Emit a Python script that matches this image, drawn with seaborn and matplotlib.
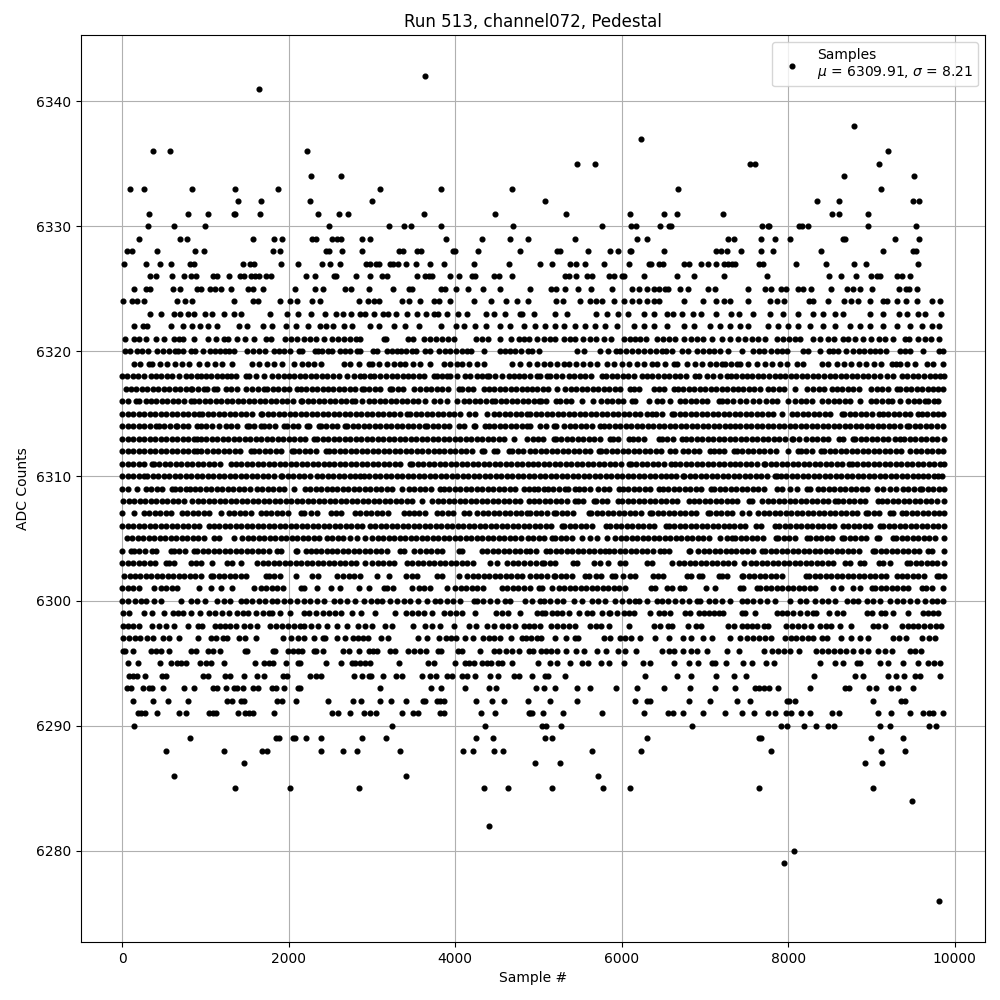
import pandas as pd
import seaborn as sns
import matplotlib.pyplot as plt

# sample numbers, one list per ADC level
adc_6342 = [3635]
adc_6341 = [1643]
adc_6338 = [8795]
adc_6337 = [6227]
adc_6336 = [371, 575, 2219, 9203]
adc_6335 = [5459, 5675, 7547, 7607, 9095]
adc_6334 = [2267, 2627, 8675, 9515]
adc_6333 = [95, 263, 839, 1355, 1871, 3095, 3827, 4679, 6671, 9119]
adc_6332 = [1391, 1667, 2255, 2999, 5075, 8351, 8615, 9503, 9575]
adc_6331 = [323, 791, 1031, 1343, 1359, 1655, 2351, 2603, 2711, 3623, 4475, 5327, 6095, 6503, 6659, 7211, 8531, 8615, 8963]
adc_6330 = [311, 623, 995, 2483, 3203, 3383, 3467, 3827, 4691, 5759, 6107, 6167, 6455, 6563, 6587, 7691, 7763, 7775, 8135, 8171, 8243, 8963, 9539]
adc_6329 = [203, 695, 779, 1571, 1823, 1919, 2279, 2327, 2519, 2579, 2627, 2879, 2975, 3887, 4319, 4655, 4871, 5435, 6179, 6299, 7271, 7343, 7679, 7847, 8027, 8663, 8687, 9287, 9575]
adc_6328 = [55, 119, 419, 875, 983, 1811, 1895, 2447, 2483, 2639, 2879, 3323, 3371, 3543, 3591, 3971, 3995, 4271, 4775, 5219, 5255, 5591, 5855, 5951, 6095, 6107, 6503, 7127, 7187, 7259, 7439, 7679, 7823, 8399, 9143, 9503, 9539]
adc_6327 = [23, 287, 455, 587, 815, 863, 1451, 1535, 1583, 1907, 2111, 2399, 2495, 2615, 2927, 2975, 3047, 3083, 3215, 3251, 3311, 3407, 3527, 3695, 3863, 4223, 4643, 5015, 5159, 5375, 5447, 5555, 5783, 6083, 6323, 6347, 6443, 6491, 6743, 6803, 6947, 7031, 7127, 7223, 7271, 7319, 7367, 7655, 7703, 8099, 8459, 8795, 8939, 9563]
adc_6326 = [335, 407, 599, 743, 827, 887, 1091, 1139, 1283, 1415, 1463, 1547, 1595, 1643, 1727, 1787, 2207, 2315, 2543, 2567, 2807, 2975, 3119, 3179, 3539, 3635, 3683, 3719, 3935, 4043, 4199, 4235, 4463, 4523, 4679, 5315, 5363, 5447, 5579, 5639, 5843, 5903, 6000, 6023, 6263, 6659, 6863, 7223, 7751, 8495, 8639, 8819, 8999, 9071, 9107, 9311, 9371, 9467]
adc_6325 = [143, 287, 335, 611, 695, 899, 947, 1055, 1115, 1187, 1307, 1511, 1571, 1691, 2075, 2315, 2411, 2675, 2747, 2963, 3251, 3443, 3479, 3827, 3875, 4007, 4151, 4331, 4535, 4903, 5147, 5207, 5315, 5471, 5627, 5879, 6119, 6203, 6299, 6383, 6443, 6515, 6551, 6695, 6791, 7031, 7115, 7523, 7727, 7799, 7919, 7979, 8123, 8183, 8279, 8519, 8711, 8783, 8867, 9011, 9335, 9419, 9455, 9551]
adc_6324 = [11, 119, 179, 263, 659, 755, 839, 1343, 1571, 1631, 1895, 2015, 2099, 2279, 2375, 2843, 2951, 3023, 3083, 3359, 3443, 3575, 3743, 3803, 3935, 4223, 4427, 4607, 4739, 4871, 5207, 5291, 5495, 5615, 5687, 5759, 5903, 6023, 6119, 6203, 6303, 6383, 6443, 6743, 6971, 7127, 7223, 7295, 7523, 7787, 7871, 7955, 8255, 8303, 8483, 8675, 8759, 8843, 8987, 9143, 9191, 9311, 9419, 9551, 9731, 9827]
adc_6323 = [335, 467, 623, 695, 791, 863, 995, 1079, 1223, 1343, 1427, 1775, 1979, 2111, 2267, 2435, 2567, 2651, 2747, 2855, 2915, 3023, 3131, 3191, 3287, 3419, 3539, 3647, 3743, 3791, 3899, 4031, 4139, 4367, 4463, 4595, 4775, 4799, 4943, 5195, 5339, 5687, 5819, 5951, 6071, 6263, 6383, 6539, 6611, 6719, 6851, 6947, 7127, 7307, 7415, 7583, 7787, 7943, 8123, 8303, 8423, 8567, 8663, 8987, 9143, 9335, 9431, 9563, 9647, 9839]
adc_6322 = [143, 251, 299, 587, 731, 839, 935, 1031, 1143, 1403, 1499, 1691, 1803, 1967, 2087, 2231, 2375, 2447, 2531, 2663, 2763, 2975, 3083, 3263, 3395, 3563, 3827, 4007, 4103, 4235, 4367, 4535, 4655, 4823, 4963, 5083, 5203, 5303, 5443, 5563, 5683, 5803, 5943, 6143, 6263, 6383, 6543, 6743, 6863, 7063, 7183, 7303, 7423, 7523, 7763, 7883, 8003, 8123, 8263, 8423, 8563, 8743, 8863, 8983, 9143, 9303, 9463, 9603, 9723, 9815]
adc_6321 = [35, 143, 203, 287, 407, 503, 623, 683, 731, 863, 1031, 1127, 1223, 1271, 1379, 1475, 1583, 1727, 1787, 1955, 2027, 2103, 2183, 2255, 2327, 2423, 2519, 2591, 2663, 2735, 2807, 2855, 3143, 3167, 3431, 3491, 3623, 3695, 3767, 3839, 3911, 3983, 4247, 4319, 4391, 4535, 4667, 4763, 4823, 4883, 4983, 5063, 5143, 5203, 5303, 5383, 5443, 5531, 5615, 5695, 5783, 5871, 6023, 6103, 6163, 6223, 6287, 6423, 6495, 6563, 6643, 6743, 6831, 6903, 6975, 7083, 7203, 7303, 7403, 7483, 7563, 7643, 7723, 7871, 7943, 8015, 8087, 8143, 8303, 8383, 8483, 8551, 8655, 8723, 8803, 8903, 8991, 9095, 9163, 9263, 9403, 9455, 9563, 9643, 9711, 9807]
adc_6320 = [31, 95, 179, 239, 307, 423, 495, 563, 631, 671, 731, 823, 875, 967, 1055, 1115, 1175, 1235, 1283, 1343, 1503, 1575, 1643, 1711, 1823, 1883, 1943, 2015, 2123, 2159, 2315, 2351, 2399, 2471, 2519, 2615, 2675, 2735, 2823, 2855, 3011, 3059, 3179, 3239, 3299, 3347, 3411, 3479, 3527, 3635, 3695, 3803, 3875, 3935, 4007, 4079, 4143, 4191, 4343, 4535, 4599, 4663, 4723, 4787, 4871, 4927, 5003, 5459, 5543, 5735, 5831, 5927, 5975, 6047, 6119, 6191, 6263, 6335, 6407, 6479, 6527, 6599, 6719, 6791, 6903, 6975, 7043, 7103, 7183, 7271, 7451, 7583, 7655, 7715, 7799, 7863, 7923, 7983, 8183, 8243, 8387, 8495, 8543, 8603, 8699, 8783, 8855, 8915, 8983, 9043, 9103, 9175, 9343, 9403, 9463, 9623, 9815, 9863]
adc_6319 = [143, 210, 323, 363, 450, 540, 630, 720, 803, 923, 1023, 1110, 1200, 1323, 1563, 1650, 1740, 1830, 1920, 2063, 2163, 2230, 2303, 2383, 2663, 2743, 2850, 2963, 3003, 3090, 3180, 3260, 3343, 3403, 3490, 3580, 3703, 3863, 3943, 4023, 4083, 4170, 4260, 4343, 4683, 4783, 4883, 4983, 5063, 5143, 5223, 5303, 5363, 5450, 5540, 5620, 5703, 5823, 5910, 6000, 6090, 6180, 6270, 6363, 6423, 6520, 6623, 6663, 6783, 6883, 6970, 7060, 7130, 7203, 7243, 7310, 7383, 7423, 7523, 7631, 7720, 7810, 7900, 7990, 8103, 8183, 8403, 8483, 8583, 8670, 8760, 8850, 8940, 9030, 9120, 9243, 9295, 9343, 9423, 9523, 9663, 9735, 9863]
adc_6318 = [3, 62, 131, 196, 268, 343, 403, 470, 538, 601, 688, 763, 823, 903, 943, 1007, 1071, 1140, 1203, 1263, 1303, 1370, 1483, 1523, 1603, 1703, 1803, 1871, 1943, 2003, 2068, 2131, 2197, 2266, 2333, 2397, 2466, 2534, 2603, 2703, 2783, 2863, 2903, 2983, 3023, 3103, 3171, 3243, 3303, 3370, 3431, 3497, 3563, 3631, 3743, 3783, 3843, 3903, 3943, 4021, 4123, 4183, 4263, 4323, 4383, 4403, 4480, 4563, 4643, 4707, 4763, 4823, 4903, 4983, 5023, 5103, 5143, 5211, 5283, 5363, 5431, 5497, 5565, 5631, 5763, 5815, 5880, 5947, 6013, 6081, 6147, 6243, 6303, 6370, 6437, 6503, 6571, 6637, 6703, 6771, 6883, 6923, 7023, 7095, 7180, 7263, 7311, 7375, 7441, 7507, 7571, 7637, 7703, 7771, 7837, 7903, 7967, 8033, 8097, 8163, 8231, 8297, 8363, 8431, 8497, 8563, 8631, 8697, 8763, 8831, 8897, 8963, 9031, 9103, 9183, 9263, 9363, 9431, 9497, 9563, 9631, 9697, 9763, 9823, 9870]
adc_6317 = [43, 107, 171, 239, 303, 371, 437, 503, 569, 633, 701, 767, 823, 843, 911, 983, 1023, 1103, 1143, 1243, 1311, 1377, 1483, 1563, 1631, 1703, 1743, 1809, 1875, 1941, 2007, 2103, 2143, 2209, 2275, 2341, 2407, 2473, 2539, 2605, 2671, 2737, 2803, 2883, 2903, 2969, 3035, 3101, 3223, 3243, 3309, 3375, 3503, 3583, 3649, 3715, 3781, 3847, 3913, 4043, 4083, 4149, 4215, 4343, 4403, 4469, 4535, 4601, 4667, 4733, 4799, 4865, 4923, 4989, 5055, 5121, 5223, 5323, 5389, 5455, 5521, 5587, 5653, 5719, 5785, 5851, 5917, 5983, 6103, 6143, 6209, 6383, 6443, 6509, 6623, 6671, 6737, 6803, 6869, 6935, 7001, 7067, 7133, 7199, 7265, 7331, 7397, 7463, 7529, 7595, 7661, 7763, 7823, 7889, 7955, 8083, 8223, 8303, 8369, 8435, 8523, 8583, 8649, 8715, 8781, 8847, 8999, 9063, 9129, 9195, 9303, 9343, 9409, 9475, 9541, 9607, 9673, 9739, 9805, 9863]
adc_6316 = [3, 68, 163, 203, 283, 343, 409, 475, 541, 607, 673, 739, 823, 863, 929, 995, 1061, 1127, 1193, 1259, 1325, 1391, 1457, 1523, 1589, 1655, 1721, 1787, 1853, 1919, 1985, 2051, 2143, 2163, 2229, 2295, 2361, 2427, 2493, 2559, 2625, 2691, 2763, 2803, 2883, 2963, 3029, 3095, 3161, 3227, 3293, 3359, 3425, 3491, 3557, 3643, 3743, 3823, 3903, 4023, 4103, 4169, 4235, 4301, 4367, 4443, 4483, 4549, 4615, 4681, 4747, 4813, 4879, 4945, 5003, 5031, 5097, 5215, 5263, 5329, 5395, 5523, 5655, 5755, 5821, 5887, 5953, 6019, 6123, 6163, 6323, 6423, 6483, 6583, 6695, 6761, 6827, 6893, 6959, 7025, 7163, 7203, 7269, 7335, 7423, 7495, 7583, 7649, 7735, 7803, 7869, 8003, 8083, 8149, 8215, 8281, 8403, 8483, 8549, 8615, 8681, 8747, 8863, 8991, 9057, 9123, 9203, 9243, 9343, 9443, 9509, 9575, 9643, 9683, 9749, 9803]
adc_6315 = [3, 69, 135, 201, 267, 333, 399, 465, 531, 597, 663, 729, 795, 861, 923, 963, 1029, 1095, 1161, 1227, 1293, 1359, 1425, 1491, 1557, 1663, 1683, 1749, 1815, 1881, 1947, 2013, 2079, 2145, 2211, 2283, 2343, 2409, 2475, 2541, 2607, 2673, 2739, 2805, 2871, 2937, 3003, 3069, 3135, 3201, 3267, 3333, 3423, 3463, 3529, 3595, 3661, 3727, 3793, 3859, 3925, 3991, 4057, 4163, 4243, 4383, 4463, 4529, 4595, 4661, 4727, 4793, 4859, 4903, 4969, 5035, 5101, 5167, 5233, 5299, 5365, 5431, 5497, 5563, 5629, 5695, 5761, 5827, 5893, 5959, 6025, 6091, 6157, 6223, 6303, 6363, 6415, 6481, 6603, 6631, 6697, 6763, 6829, 6895, 6961, 7027, 7093, 7159, 7225, 7291, 7357, 7423, 7489, 7555, 7621, 7687, 7753, 7819, 7923, 8043, 8109, 8175, 8241, 8307, 8373, 8439, 8505, 8643, 8671, 8737, 8803, 8869, 8935, 9001, 9095, 9135, 9201, 9267, 9333, 9399, 9465, 9563, 9603, 9669, 9735, 9801, 9865]
adc_6314 = [3, 67, 133, 199, 265, 331, 403, 443, 509, 575, 643, 663, 729, 795, 903, 943, 1009, 1075, 1163, 1243, 1309, 1375, 1503, 1523, 1589, 1663, 1703, 1769, 1835, 1943, 1983, 2049, 2115, 2223, 2243, 2363, 2383, 2449, 2515, 2581, 2683, 2703, 2769, 2835, 2901, 2967, 3033, 3099, 3165, 3231, 3297, 3363, 3429, 3495, 3561, 3643, 3663, 3729, 3795, 3861, 3927, 4043, 4103, 4223, 4243, 4363, 4403, 4469, 4535, 4601, 4667, 4733, 4799, 4865, 4903, 5023, 5089, 5183, 5215, 5311, 5377, 5443, 5509, 5575, 5641, 5743, 5783, 5849, 5915, 5981, 6047, 6113, 6179, 6245, 6311, 6377, 6443, 6509, 6575, 6641, 6707, 6773, 6839, 6905, 6971, 7037, 7103, 7169, 7235, 7301, 7363, 7423, 7489, 7555, 7621, 7687, 7753, 7819, 7885, 7951, 8017, 8083, 8149, 8215, 8281, 8347, 8413, 8479, 8545, 8611, 8677, 8743, 8809, 8875, 8941, 9007, 9073, 9139, 9205, 9271, 9337, 9423, 9455, 9521, 9587, 9653, 9719, 9785, 9865]
adc_6313 = [0, 66, 132, 198, 264, 330, 396, 462, 528, 594, 660, 726, 792, 858, 903, 943, 1009, 1075, 1141, 1207, 1273, 1339, 1405, 1471, 1537, 1603, 1669, 1735, 1801, 1867, 1933, 1999, 2065, 2131, 2197, 2303, 2343, 2409, 2475, 2541, 2607, 2673, 2739, 2805, 2871, 2937, 3003, 3069, 3135, 3201, 3267, 3333, 3399, 3465, 3531, 3597, 3663, 3729, 3795, 3861, 3927, 3993, 4059, 4125, 4191, 4257, 4323, 4389, 4455, 4521, 4587, 4703, 4863, 4929, 4995, 5061, 5183, 5211, 5277, 5343, 5409, 5475, 5541, 5607, 5673, 5739, 5855, 5895, 5961, 6083, 6135, 6201, 6267, 6443, 6483, 6549, 6615, 6723, 6771, 6837, 6903, 6969, 7035, 7101, 7167, 7233, 7299, 7365, 7431, 7497, 7563, 7629, 7695, 7761, 7827, 7893, 7959, 8043, 8063, 8135, 8215, 8281, 8347, 8413, 8479, 8615, 8655, 8783, 8803, 8869, 8935, 9001, 9067, 9133, 9199, 9283, 9343, 9391, 9457, 9523, 9589, 9655, 9721, 9787, 9868]
adc_6312 = [3, 69, 135, 201, 267, 333, 399, 465, 531, 597, 663, 729, 795, 861, 903, 943, 1023, 1089, 1155, 1221, 1287, 1353, 1419, 1543, 1583, 1649, 1715, 1781, 1847, 1913, 2043, 2063, 2129, 2195, 2261, 2327, 2443, 2483, 2549, 2615, 2681, 2747, 2813, 2879, 2945, 3011, 3077, 3143, 3209, 3275, 3341, 3407, 3473, 3539, 3605, 3671, 3743, 3803, 3869, 3935, 4001, 4067, 4133, 4199, 4323, 4343, 4463, 4503, 4643, 4683, 4749, 4815, 4903, 4963, 5029, 5095, 5161, 5227, 5293, 5359, 5425, 5491, 5557, 5623, 5723, 5751, 5817, 5883, 5949, 6015, 6081, 6147, 6213, 6279, 6345, 6411, 6477, 6583, 6635, 6731, 6797, 6863, 6929, 7055, 7103, 7167, 7233, 7343, 7383, 7449, 7515, 7581, 7647, 7713, 7779, 7855, 8003, 8123, 8151, 8217, 8283, 8391, 8431, 8497, 8563, 8629, 8695, 8761, 8827, 8893, 8959, 9025, 9091, 9157, 9223, 9289, 9355, 9463, 9531, 9597, 9663, 9729, 9795, 9863]
adc_6311 = [0, 66, 132, 198, 264, 363, 383, 449, 515, 581, 647, 713, 779, 845, 911, 977, 1043, 1109, 1175, 1303, 1363, 1429, 1495, 1561, 1627, 1693, 1759, 1825, 1891, 1957, 2023, 2089, 2155, 2221, 2287, 2353, 2419, 2485, 2551, 2617, 2683, 2749, 2815, 2881, 2947, 3013, 3079, 3145, 3211, 3277, 3343, 3463, 3483, 3549, 3615, 3681, 3747, 3813, 3879, 3945, 4011, 4077, 4143, 4209, 4275, 4341, 4407, 4473, 4539, 4605, 4671, 4737, 4803, 4869, 4935, 5001, 5067, 5133, 5199, 5265, 5331, 5397, 5463, 5529, 5595, 5661, 5727, 5793, 5859, 5925, 5991, 6083, 6111, 6177, 6243, 6309, 6375, 6441, 6507, 6591, 6635, 6701, 6767, 6833, 6899, 6965, 7031, 7097, 7163, 7229, 7295, 7361, 7427, 7493, 7559, 7625, 7711, 7727, 7793, 7859, 7925, 7991, 8057, 8123, 8189, 8255, 8321, 8387, 8453, 8519, 8585, 8651, 8735, 8763, 8829, 8895, 8961, 9027, 9093, 9159, 9225, 9291, 9357, 9423, 9489, 9555, 9621, 9687, 9753, 9819, 9869]
adc_6310 = [3, 69, 135, 201, 263, 303, 369, 435, 501, 567, 633, 699, 765, 831, 897, 963, 1029, 1095, 1161, 1227, 1293, 1359, 1425, 1491, 1557, 1623, 1689, 1755, 1821, 1903, 1923, 1989, 2055, 2121, 2187, 2253, 2343, 2403, 2469, 2535, 2601, 2667, 2733, 2799, 2863, 2903, 2969, 3035, 3101, 3167, 3233, 3299, 3365, 3431, 3497, 3563, 3629, 3695, 3761, 3827, 3893, 3959, 4025, 4091, 4157, 4223, 4289, 4355, 4421, 4487, 4553, 4619, 4685, 4751, 4817, 4883, 4949, 5015, 5081, 5147, 5213, 5279, 5345, 5411, 5477, 5543, 5609, 5675, 5741, 5807, 5873, 5939, 6005, 6071, 6137, 6203, 6269, 6335, 6401, 6467, 6533, 6591, 6657, 6735, 6751, 6817, 6883, 6949, 7015, 7081, 7147, 7213, 7279, 7345, 7411, 7477, 7543, 7609, 7675, 7741, 7843, 7871, 7911, 7977, 8043, 8109, 8175, 8241, 8307, 8373, 8439, 8505, 8571, 8637, 8703, 8769, 8835, 8901, 8967, 9033, 9099, 9165, 9231, 9297, 9363, 9429, 9495, 9563, 9615, 9681, 9747, 9803, 9843]
adc_6309 = [3, 69, 183, 283, 349, 415, 481, 603, 631, 697, 763, 815, 871, 937, 1003, 1069, 1135, 1201, 1267, 1333, 1399, 1465, 1531, 1623, 1683, 1749, 1815, 1881, 1947, 2063, 2191, 2257, 2323, 2389, 2455, 2521, 2587, 2653, 2719, 2785, 2851, 2917, 2983, 3049, 3115, 3181, 3247, 3363, 3443, 3509, 3575, 3641, 3707, 3823, 3863, 3929, 3995, 4061, 4127, 4193, 4259, 4325, 4391, 4457, 4523, 4589, 4655, 4721, 4823, 4883, 4943, 4991, 5063, 5111, 5177, 5243, 5323, 5351, 5443, 5483, 5549, 5615, 5711, 5783, 5849, 5963, 6011, 6077, 6143, 6209, 6275, 6341, 6443, 6491, 6557, 6623, 6689, 6755, 6821, 6887, 6953, 7071, 7111, 7177, 7243, 7309, 7375, 7441, 7507, 7573, 7639, 7705, 7871, 7923, 8023, 8103, 8223, 8263, 8363, 8423, 8489, 8555, 8621, 8687, 8753, 8819, 8885, 8951, 9063, 9143, 9223, 9289, 9383, 9443, 9509, 9583, 9611, 9677, 9743, 9809, 9868]
adc_6308 = [15, 81, 147, 213, 279, 345, 411, 477, 543, 609, 675, 743, 843, 909, 975, 1041, 1107, 1173, 1239, 1305, 1371, 1437, 1503, 1569, 1635, 1701, 1767, 1833, 1899, 1965, 2031, 2097, 2163, 2229, 2295, 2361, 2427, 2493, 2559, 2625, 2691, 2757, 2823, 2889, 2955, 3021, 3087, 3153, 3219, 3285, 3351, 3417, 3483, 3603, 3723, 3789, 3855, 3921, 3987, 4053, 4119, 4185, 4251, 4317, 4383, 4449, 4515, 4581, 4647, 4713, 4779, 4883, 4943, 5009, 5075, 5141, 5207, 5273, 5339, 5443, 5471, 5537, 5671, 5695, 5761, 5827, 5951, 6007, 6073, 6139, 6205, 6271, 6337, 6403, 6469, 6535, 6601, 6667, 6803, 6863, 6929, 6995, 7061, 7127, 7193, 7259, 7325, 7391, 7535, 7571, 7687, 7753, 7819, 7885, 7951, 8017, 8083, 8149, 8215, 8281, 8347, 8413, 8479, 8563, 8595, 8661, 8727, 8793, 8859, 8925, 9083, 9123, 9189, 9255, 9321, 9387, 9453, 9519, 9585, 9651, 9717, 9783, 9868]
adc_6307 = [3, 143, 263, 329, 395, 461, 527, 593, 723, 783, 849, 915, 981, 1047, 1183, 1283, 1349, 1415, 1481, 1547, 1663, 1723, 1789, 1855, 1921, 1987, 2143, 2183, 2263, 2343, 2503, 2569, 2635, 2803, 2863, 2929, 2995, 3061, 3127, 3193, 3383, 3443, 3503, 3569, 3635, 3783, 3843, 3909, 3975, 4103, 4163, 4263, 4329, 4395, 4461, 4527, 4593, 4659, 4725, 4791, 4857, 4903, 4969, 5035, 5101, 5183, 5215, 5281, 5347, 5413, 5603, 5635, 5701, 5767, 5833, 5899, 5965, 6031, 6097, 6163, 6229, 6343, 6367, 6433, 6499, 6565, 6631, 6697, 6763, 6829, 6895, 7031, 7063, 7129, 7195, 7261, 7327, 7443, 7531, 7643, 7709, 7775, 7841, 7907, 7973, 8039, 8105, 8171, 8237, 8303, 8369, 8435, 8501, 8567, 8633, 8699, 8765, 8831, 8935, 8963, 9029, 9095, 9223, 9263, 9363, 9415, 9481, 9547, 9613, 9679, 9745, 9811, 9868]
adc_6306 = [3, 69, 135, 201, 267, 333, 399, 465, 531, 597, 663, 729, 795, 861, 927, 1043, 1103, 1169, 1235, 1301, 1367, 1433, 1499, 1565, 1631, 1697, 1763, 1829, 1895, 1961, 2027, 2093, 2159, 2225, 2291, 2357, 2423, 2489, 2555, 2621, 2687, 2753, 2819, 2885, 2983, 3043, 3109, 3175, 3241, 3307, 3373, 3439, 3505, 3571, 3637, 3703, 3769, 3835, 3901, 3967, 4033, 4099, 4165, 4231, 4297, 4363, 4429, 4495, 4561, 4627, 4693, 4759, 4825, 4891, 4957, 5023, 5089, 5155, 5283, 5311, 5377, 5443, 5509, 5575, 5641, 5815, 5863, 5929, 5995, 6061, 6127, 6193, 6259, 6325, 6391, 6527, 6563, 6629, 6695, 6761, 6827, 6893, 6959, 7025, 7091, 7157, 7223, 7289, 7355, 7421, 7487, 7615, 7671, 7843, 7895, 7961, 8027, 8093, 8159, 8225, 8291, 8357, 8423, 8489, 8555, 8655, 8723, 8789, 8855, 8921, 8987, 9103, 9143, 9209, 9275, 9341, 9407, 9473, 9539, 9605, 9671, 9737, 9803, 9868]
adc_6305 = [55, 121, 187, 253, 319, 385, 451, 517, 583, 649, 715, 781, 847, 913, 979, 1103, 1163, 1343, 1443, 1509, 1575, 1641, 1707, 1773, 1839, 1905, 1971, 2037, 2103, 2169, 2235, 2301, 2367, 2463, 2523, 2589, 2655, 2743, 2823, 2923, 3003, 3069, 3135, 3201, 3267, 3333, 3399, 3465, 3531, 3597, 3663, 3729, 3795, 3861, 3927, 3993, 4059, 4125, 4191, 4257, 4323, 4389, 4455, 4521, 4587, 4653, 4719, 4785, 4871, 4937, 5003, 5069, 5163, 5203, 5269, 5335, 5401, 5523, 5623, 5703, 5823, 5923, 5989, 6055, 6121, 6187, 6253, 6319, 6385, 6451, 6517, 6583, 6649, 6715, 6781, 6847, 6913, 6979, 7045, 7183, 7263, 7323, 7363, 7429, 7495, 7561, 7627, 7693, 7855, 7883, 7949, 8015, 8081, 8223, 8263, 8329, 8395, 8461, 8527, 8643, 8671, 8737, 8803, 8869, 8935, 9063, 9095, 9263, 9295, 9361, 9427, 9493, 9559, 9625, 9691, 9757, 9868]
adc_6304 = [3, 103, 143, 209, 275, 363, 403, 583, 623, 689, 755, 863, 903, 969, 1035, 1101, 1167, 1233, 1299, 1365, 1431, 1497, 1563, 1629, 1695, 1761, 1863, 1903, 2083, 2103, 2203, 2263, 2323, 2389, 2455, 2521, 2587, 2653, 2719, 2785, 2851, 2917, 2983, 3049, 3115, 3181, 3343, 3383, 3503, 3583, 3649, 3715, 3781, 3847, 4043, 4083, 4323, 4383, 4449, 4515, 4581, 4647, 4713, 4779, 4845, 4903, 4969, 5095, 5143, 5209, 5275, 5341, 5407, 5473, 5539, 5605, 5671, 5737, 5803, 5843, 5909, 5975, 6041, 6107, 6173, 6239, 6305, 6371, 6463, 6503, 6569, 6803, 6823, 6915, 6983, 7049, 7115, 7181, 7247, 7313, 7379, 7445, 7511, 7577, 7683, 7723, 7791, 7857, 7923, 7989, 8055, 8121, 8187, 8253, 8319, 8385, 8451, 8517, 8583, 8649, 8715, 8781, 8847, 9015, 9043, 9109, 9175, 9241, 9307, 9373, 9439, 9505, 9571, 9683, 9731, 9870]
adc_6303 = [0, 66, 132, 198, 264, 330, 396, 523, 563, 629, 823, 883, 943, 1083, 1263, 1323, 1423, 1623, 1689, 1755, 1821, 1887, 1953, 2019, 2085, 2151, 2217, 2283, 2349, 2415, 2481, 2547, 2613, 2679, 2745, 2811, 2923, 3003, 3069, 3135, 3201, 3267, 3423, 3483, 3549, 3615, 3681, 3747, 3813, 3879, 3945, 4011, 4077, 4143, 4209, 4423, 4503, 4623, 4689, 4755, 4821, 4903, 4969, 5043, 5071, 5137, 5203, 5415, 5463, 5671, 5743, 5831, 5975, 6041, 6303, 6363, 6603, 6683, 6749, 6815, 6881, 6947, 7013, 7079, 7145, 7211, 7277, 7343, 7471, 7551, 7617, 7683, 7749, 7815, 7881, 7947, 8013, 8079, 8145, 8211, 8277, 8343, 8409, 8475, 8541, 8683, 8743, 8863, 8911, 9095, 9143, 9223, 9423, 9463, 9529, 9595, 9661, 9727, 9793, 9868]
adc_6302 = [23, 89, 155, 221, 287, 353, 419, 485, 551, 617, 683, 749, 815, 881, 947, 1063, 1095, 1161, 1227, 1293, 1359, 1425, 1491, 1723, 1763, 1829, 1895, 2083, 2283, 2349, 2583, 2655, 2721, 2787, 2853, 3063, 3203, 3415, 3481, 3547, 3783, 3843, 4043, 4143, 4209, 4275, 4341, 4407, 4473, 4539, 4605, 4671, 4737, 4803, 4903, 4969, 5035, 5101, 5191, 5203, 5269, 5335, 5401, 5563, 5603, 5695, 5755, 5883, 5923, 6015, 6095, 6161, 6375, 6431, 6497, 6783, 6831, 6923, 6963, 7163, 7203, 7269, 7443, 7463, 7529, 7595, 7661, 7727, 7793, 7859, 7925, 8215, 8255, 8321, 8387, 8453, 8519, 8585, 8651, 8717, 8783, 8849, 8915, 8981, 9047, 9113, 9179, 9311, 9363, 9429, 9495, 9561, 9627, 9783, 9815, 9870]
adc_6301 = [0, 66, 132, 198, 383, 463, 529, 595, 661, 923, 1063, 1183, 1323, 1583, 1663, 1729, 1795, 1861, 1927, 2143, 2183, 2343, 2503, 2623, 2843, 2963, 3143, 3183, 3249, 3483, 3563, 3629, 3695, 3903, 4003, 4069, 4135, 4201, 4267, 4333, 4563, 4623, 4689, 4755, 4821, 4903, 5003, 5043, 5163, 5243, 5309, 5375, 5441, 5507, 5573, 5639, 5705, 5771, 5837, 5903, 5969, 6035, 6351, 6403, 6543, 6603, 6703, 6743, 7015, 7123, 7423, 7463, 7623, 7663, 7729, 7795, 7861, 7927, 7993, 8059, 8125, 8191, 8257, 8323, 8543, 8631, 8775, 8863, 9003, 9043, 9109, 9175, 9241, 9307, 9373, 9439, 9603, 9655, 9721, 9863]
adc_6300 = [3, 75, 150, 225, 283, 383, 470, 703, 823, 900, 1000, 1143, 1220, 1300, 1423, 1483, 1560, 1640, 1720, 1803, 1863, 1940, 2020, 2100, 2180, 2260, 2340, 2420, 2543, 2623, 2703, 2803, 2903, 2990, 3063, 3123, 3223, 3303, 3380, 3460, 3550, 3663, 3763, 3823, 3903, 3980, 4060, 4223, 4263, 4340, 4420, 4500, 4600, 4663, 4843, 4923, 5023, 5063, 5140, 5220, 5300, 5423, 5523, 5643, 5720, 5800, 5923, 6003, 6090, 6163, 6203, 6303, 6423, 6483, 6560, 6640, 6720, 6810, 6903, 6943, 7043, 7120, 7200, 7303, 7443, 7503, 7580, 7660, 7743, 7843, 8023, 8143, 8215, 8323, 8400, 8480, 8560, 8703, 8783, 8843, 8943, 9020, 9100, 9223, 9303, 9380, 9460, 9550, 9640, 9723, 9783, 9863]
adc_6299 = [11, 83, 263, 359, 503, 611, 671, 731, 827, 935, 1043, 1115, 1199, 1283, 1379, 1451, 1511, 1607, 1691, 1763, 1799, 1895, 2015, 2183, 2243, 2327, 2411, 2483, 2555, 2627, 2759, 2867, 3035, 3275, 3407, 3479, 3551, 3623, 3719, 3863, 3935, 4007, 4079, 4235, 4487, 4559, 4631, 4775, 4983, 5043, 5083, 5163, 5223, 5283, 5363, 5483, 5583, 5643, 5763, 5843, 5863, 5943, 6023, 6083, 6143, 6343, 6443, 6503, 6575, 6763, 6823, 6923, 6983, 7043, 7103, 7171, 7211, 7443, 7483, 7607, 7863, 7923, 7983, 8063, 8143, 8223, 8295, 8335, 8495, 8591, 8655, 8943, 9007, 9111, 9163, 9255, 9443, 9623, 9683, 9743, 9803]
adc_6298 = [11, 71, 131, 203, 359, 443, 527, 619, 791, 911, 959, 1115, 1175, 1235, 1295, 1367, 1463, 1535, 1619, 1775, 1847, 1919, 1991, 2063, 2135, 2183, 2267, 2351, 2459, 2579, 2699, 2831, 2915, 2999, 3155, 3239, 3491, 3635, 3719, 3815, 3983, 4163, 4247, 4379, 4463, 4559, 4631, 4715, 4823, 4883, 4943, 5015, 5147, 5219, 5291, 5363, 5435, 5615, 5687, 5747, 5843, 6083, 6383, 6455, 6551, 6599, 6791, 6887, 6947, 7271, 7355, 7451, 7511, 7571, 7631, 7715, 7763, 7979, 8051, 8123, 8195, 8279, 8387, 8459, 8519, 8627, 8759, 9023, 9083, 9167, 9371, 9443, 9503, 9563, 9635, 9707, 9779, 9839]
adc_6297 = [11, 83, 155, 215, 299, 371, 491, 563, 683, 911, 1067, 1127, 1211, 1259, 1403, 1475, 1607, 1931, 2027, 2111, 2183, 2303, 2411, 2435, 2579, 2675, 2771, 2831, 2891, 2951, 3107, 3191, 3551, 3659, 3803, 3887, 3947, 4007, 4115, 4211, 4331, 4403, 4463, 4535, 4667, 4799, 4847, 4907, 4979, 5027, 5195, 5327, 5435, 5471, 5783, 5855, 5975, 6035, 6107, 6215, 6395, 6563, 6731, 6827, 6971, 7079, 7295, 7427, 7511, 7583, 7655, 7727, 7799, 7967, 8039, 8099, 8171, 8243, 8303, 8411, 8471, 8639, 8759, 8867, 8963, 9263, 9335, 9419, 9611, 9695, 9767]
adc_6296 = [11, 35, 131, 347, 407, 467, 563, 827, 887, 1031, 1091, 1175, 1475, 1499, 1811, 1835, 1991, 2051, 2111, 2159, 2303, 2327, 2411, 2651, 2723, 2843, 2963, 3011, 3059, 3215, 3275, 3431, 3503, 3575, 3647, 3791, 3827, 4031, 4079, 4295, 4463, 4523, 4607, 4679, 4763, 4883, 4931, 5027, 5087, 5147, 5219, 5327, 5447, 5543, 5699, 5807, 5951, 6035, 6167, 6479, 6563, 6623, 6731, 6827, 6899, 7019, 7259, 7415, 7715, 7811, 7883, 7955, 8027, 8135, 8339, 8411, 8483, 8555, 8627, 8699, 8783, 8879, 8963, 9083, 9167, 9251, 9467, 9527, 9599]
adc_6295 = [71, 191, 455, 587, 659, 707, 767, 935, 1007, 1067, 1223, 1595, 1703, 1763, 1811, 1967, 2111, 2135, 2447, 2627, 2759, 2795, 2855, 2915, 2975, 3323, 3671, 3743, 3995, 4115, 4163, 4223, 4319, 4383, 4431, 4511, 4559, 4679, 4991, 5135, 5219, 5375, 5519, 5591, 5747, 5843, 6023, 6251, 6335, 6623, 6803, 6911, 7079, 7115, 7247, 7463, 7571, 7739, 7835, 8387, 8567, 8663, 8831, 8867, 9107, 9203, 9383, 9563, 9683, 9755, 9827]
adc_6294 = [83, 131, 179, 275, 479, 527, 971, 1031, 1235, 1295, 1463, 1619, 1703, 1931, 1979, 2255, 2327, 2387, 2783, 2879, 2963, 2987, 3131, 3287, 3359, 3599, 3695, 3767, 3899, 3959, 4079, 4139, 4235, 4415, 4511, 4703, 4763, 4919, 5075, 5111, 5315, 6275, 6659, 6827, 7127, 7343, 7499, 8315, 8807, 8903, 9203, 9299, 9395, 9527, 9587, 9827]
adc_6293 = [59, 107, 251, 323, 359, 491, 743, 863, 1091, 1139, 1247, 1343, 1379, 1451, 1571, 1631, 1799, 1847, 1943, 2111, 2135, 3095, 3707, 3827, 4115, 4403, 4487, 4967, 5063, 5195, 5459, 5615, 5927, 6179, 6503, 6815, 7115, 7367, 7607, 7655, 7715, 7775, 7883, 8267, 8687, 8735, 8975, 9059, 9239, 9323, 9503]
adc_6292 = [131, 371, 551, 791, 1259, 1319, 1427, 1463, 1859, 1919, 2087, 2471, 2771, 2867, 3095, 3227, 3407, 3611, 3635, 3779, 3815, 3863, 4247, 4439, 4583, 4871, 5135, 5459, 6155, 6299, 6335, 6803, 7055, 7391, 7547, 7991, 8015, 8087, 9023, 9359, 9407]
adc_6291 = [191, 227, 275, 419, 683, 767, 1043, 1091, 1127, 1391, 1475, 1523, 1571, 1823, 2519, 2591, 2735, 2903, 2975, 3047, 3359, 3491, 3551, 3815, 3863, 4307, 4475, 4883, 4895, 4919, 5051, 5291, 5759, 6263, 6551, 6611, 6731, 6971, 7235, 7451, 7595, 7763, 7847, 7979, 8039, 8159, 8267, 8531, 8615, 9083, 9239, 9467, 9623, 9695, 9743, 9863]
adc_6290 = [143, 3239, 4355, 5039, 5087, 5267, 6839, 7919, 7991, 8195, 8339, 8483, 8555, 9107, 9227, 9695, 9779]
adc_6289 = [815, 1847, 1883, 2051, 2075, 2207, 2387, 2879, 3167, 4247, 4451, 5075, 5159, 6299, 7655, 7679, 8999, 9383]
adc_6288 = [527, 1223, 1679, 1739, 2387, 2651, 2819, 3335, 4091, 4211, 4463, 4571, 5639, 6227, 7799, 9119, 9407]
adc_6287 = [1463, 4955, 5255, 8927, 9131]
adc_6286 = [623, 3407, 5711]
adc_6285 = [1355, 2015, 2843, 4343, 4631, 5159, 5771, 6095, 7655, 9023]
adc_6284 = [9491]
adc_6282 = [4403]
adc_6280 = [8075]
adc_6279 = [7955]
adc_6276 = [9815]

levels = {
    6342: adc_6342, 6341: adc_6341, 6338: adc_6338, 6337: adc_6337, 6336: adc_6336,
    6335: adc_6335, 6334: adc_6334, 6333: adc_6333, 6332: adc_6332, 6331: adc_6331,
    6330: adc_6330, 6329: adc_6329, 6328: adc_6328, 6327: adc_6327, 6326: adc_6326,
    6325: adc_6325, 6324: adc_6324, 6323: adc_6323, 6322: adc_6322, 6321: adc_6321,
    6320: adc_6320, 6319: adc_6319, 6318: adc_6318, 6317: adc_6317, 6316: adc_6316,
    6315: adc_6315, 6314: adc_6314, 6313: adc_6313, 6312: adc_6312, 6311: adc_6311,
    6310: adc_6310, 6309: adc_6309, 6308: adc_6308, 6307: adc_6307, 6306: adc_6306,
    6305: adc_6305, 6304: adc_6304, 6303: adc_6303, 6302: adc_6302, 6301: adc_6301,
    6300: adc_6300, 6299: adc_6299, 6298: adc_6298, 6297: adc_6297, 6296: adc_6296,
    6295: adc_6295, 6294: adc_6294, 6293: adc_6293, 6292: adc_6292, 6291: adc_6291,
    6290: adc_6290, 6289: adc_6289, 6288: adc_6288, 6287: adc_6287, 6286: adc_6286,
    6285: adc_6285, 6284: adc_6284, 6282: adc_6282, 6280: adc_6280, 6279: adc_6279,
    6276: adc_6276,
}

rows = [(s, adc) for adc, samples in levels.items() for s in samples]
df = pd.DataFrame(rows, columns=["sample", "adc"])

fig, ax = plt.subplots(figsize=(10, 10), dpi=100)
sns.scatterplot(data=df, x="sample", y="adc", color="k", marker=".", s=46,
                linewidth=1, edgecolor="k", zorder=3,
                label="Samples\n$\\mu$ = 6309.91, $\\sigma$ = 8.21", ax=ax)
ax.set_title("Run 513, channel072, Pedestal")
ax.set_xlabel("Sample #")
ax.set_ylabel("ADC Counts")
ax.grid(True)
ax.legend(loc="upper right")
fig.subplots_adjust(left=0.081, right=0.985, top=0.965, bottom=0.058)
fig.savefig("out.png", dpi=100)
